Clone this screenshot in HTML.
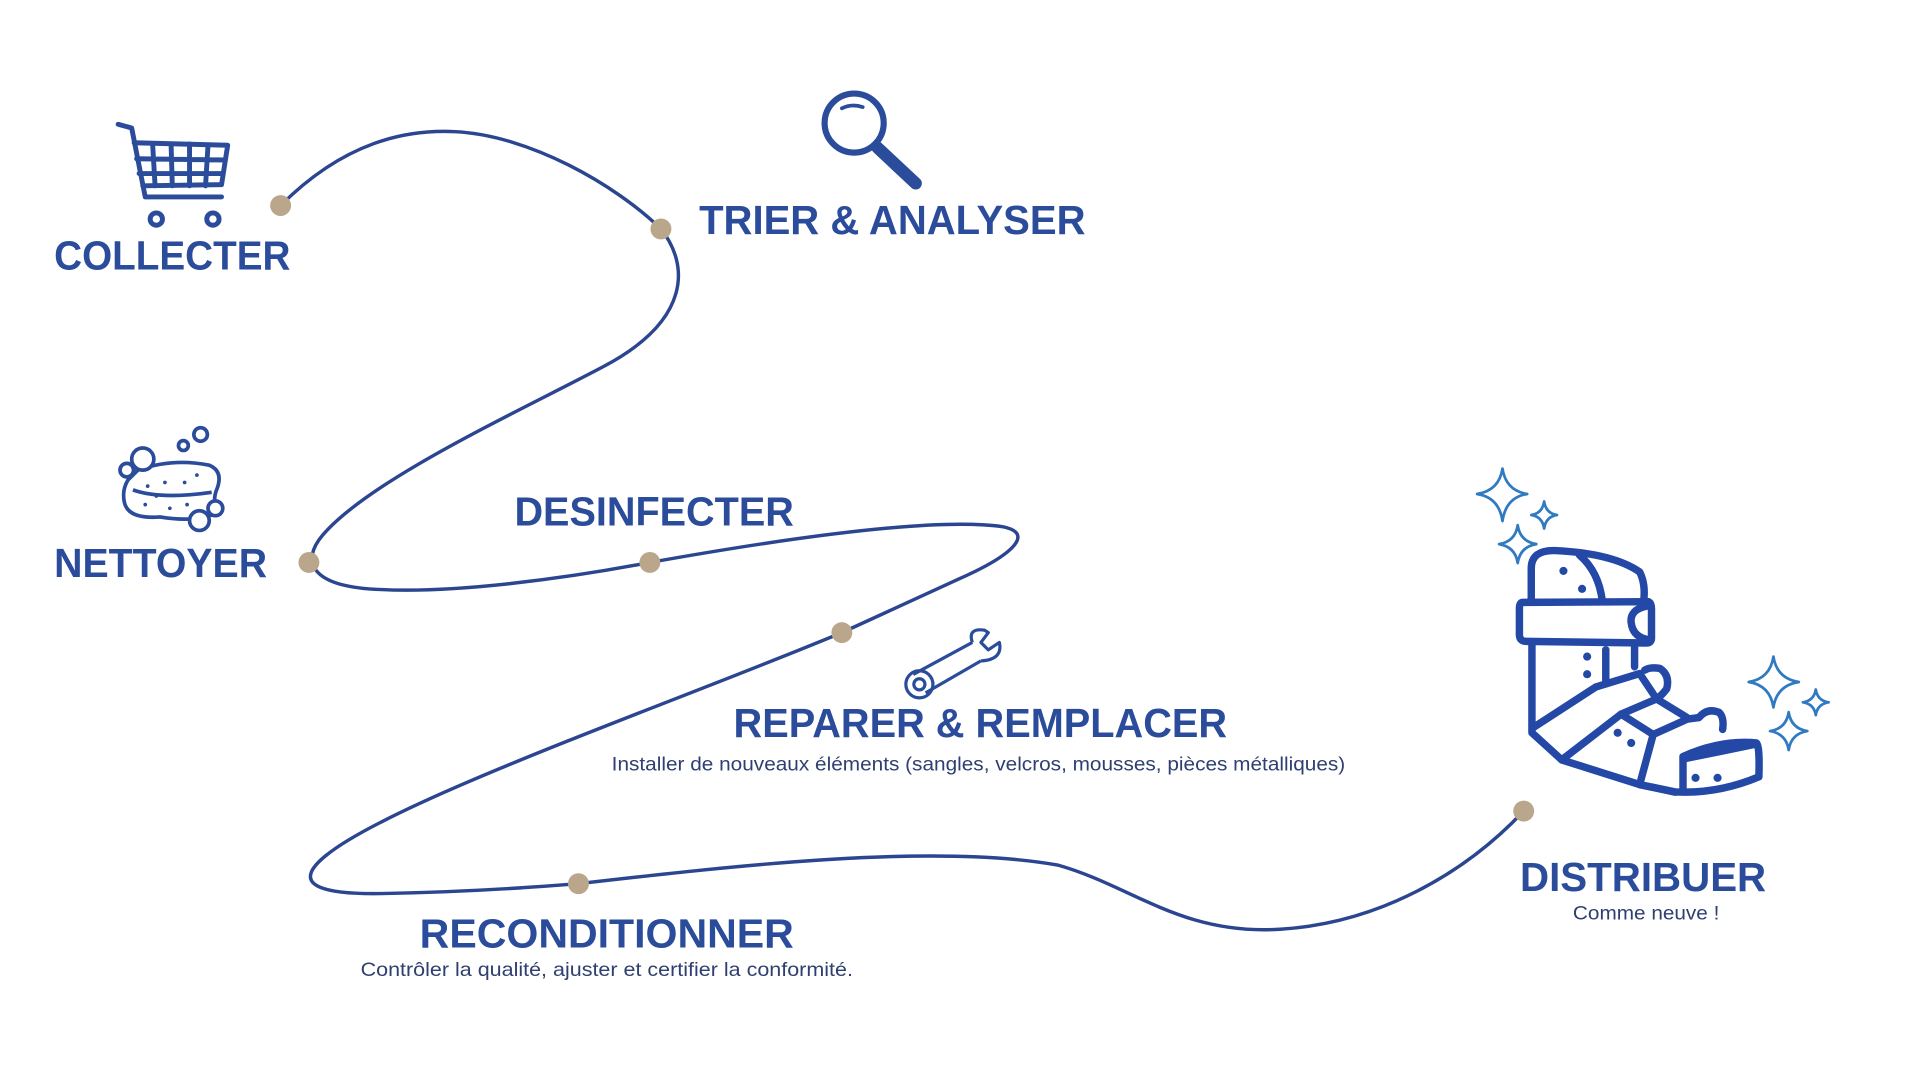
<!DOCTYPE html>
<html><head><meta charset="utf-8"><style>
html,body{margin:0;padding:0;background:#fff;width:1920px;height:1080px;overflow:hidden}
svg{display:block}
.h{font-family:"Liberation Sans",sans-serif;font-weight:bold;font-size:33px;fill:#2b4c9b}
.s{font-family:"Liberation Sans",sans-serif;font-size:15.5px;fill:#2e3f70}
</style></head><body>
<svg width="1920" height="1080" viewBox="0 0 1560 877.5" xmlns="http://www.w3.org/2000/svg">
<rect width="1560" height="877.5" fill="#fff"/>
<path d="M228,167 C280,115 330,105 370,107 C430,110 500,150 537,186 C560,215 562,260 490,298 C420,335 300,390 262,435 C245,455 250,477 310,479 C370,482 460,470 528,457 C640,437 760,420 815,428 C840,433 825,450 780,470 L684,514 C550,570 320,650 265,695 C240,715 250,727 310,726 C370,725 420,722 470,718 C600,703 760,685 860,703 C920,720 960,760 1040,755 C1120,750 1190,710 1238,659" fill="none" stroke="#2b4590" stroke-width="2.8"/>
<g fill="#b9a68b">
<circle cx="228" cy="167" r="8.5"/><circle cx="537" cy="186" r="8.5"/><circle cx="251" cy="457" r="8.5"/><circle cx="528" cy="457" r="8.5"/><circle cx="684" cy="514" r="8.5"/><circle cx="470" cy="718" r="8.5"/><circle cx="1238" cy="659" r="8.5"/>
</g>
<g>
<text class="h" x="44" y="219" textLength="192" lengthAdjust="spacingAndGlyphs">COLLECTER</text>
<text class="h" x="568" y="190" textLength="314" lengthAdjust="spacingAndGlyphs">TRIER &amp; ANALYSER</text>
<text class="h" x="44" y="469" textLength="173" lengthAdjust="spacingAndGlyphs">NETTOYER</text>
<text class="h" x="418" y="427" textLength="227" lengthAdjust="spacingAndGlyphs">DESINFECTER</text>
<text class="h" x="596" y="599" textLength="401" lengthAdjust="spacingAndGlyphs">REPARER &amp; REMPLACER</text>
<text class="s" x="497" y="626" textLength="596" lengthAdjust="spacingAndGlyphs">Installer de nouveaux éléments (sangles, velcros, mousses, pièces métalliques)</text>
<text class="h" x="341" y="770" textLength="304" lengthAdjust="spacingAndGlyphs">RECONDITIONNER</text>
<text class="s" x="293" y="793" textLength="400" lengthAdjust="spacingAndGlyphs">Contrôler la qualité, ajuster et certifier la conformité.</text>
<text class="h" x="1235" y="724" textLength="200" lengthAdjust="spacingAndGlyphs">DISTRIBUER</text>
<text class="s" x="1278" y="747" textLength="119" lengthAdjust="spacingAndGlyphs">Comme neuve !</text>
</g>
<!-- cart -->
<g fill="none" stroke="#2b4c9b" stroke-width="4" stroke-linecap="round" stroke-linejoin="round">
<path d="M96,101 L107,104 L118,160 L180,160"/>
<path d="M109,116 L185,118 L180,150 L116,151"/>
<path d="M111,129 L183,130 M113,141 L181,141 M124,117 L126,151 M139,117 L140,151 M154,117 L154,151 M169,118 L167,151"/>
<circle cx="127" cy="178" r="5"/><circle cx="173" cy="178" r="5"/>
</g>
<!-- magnifier -->
<g fill="none" stroke="#2b4c9b" stroke-linecap="round">
<circle cx="694" cy="100" r="24" stroke-width="5"/>
<path d="M684,88 Q692,84 701,87" stroke-width="3"/>
<path d="M713,120 L744,149" stroke-width="10"/>
</g>
<!-- sponge -->
<g fill="none" stroke="#2b4c9b" stroke-width="3">
<path d="M112,382 Q140,372 170,378 Q182,383 176,398 Q172,408 178,416 Q160,425 130,420 Q104,422 101,408 Q99,398 104,390 Z"/>
<path d="M108,398 Q130,406 172,400"/>
<circle cx="163" cy="353" r="5.5"/><circle cx="149" cy="362" r="4"/>
<circle cx="116" cy="373" r="9" fill="#fff"/><circle cx="103" cy="382" r="5.5" fill="#fff"/>
<circle cx="175" cy="413" r="6" fill="#fff"/><circle cx="162" cy="423" r="8" fill="#fff"/>
</g>
<g fill="#2b4c9b"><circle cx="120" cy="395" r="1.5"/><circle cx="134" cy="392" r="1.5"/><circle cx="150" cy="392" r="1.5"/><circle cx="160" cy="386" r="1.5"/><circle cx="118" cy="410" r="1.5"/><circle cx="138" cy="413" r="1.5"/><circle cx="152" cy="410" r="1.5"/><circle cx="127" cy="403" r="1.5"/></g>
<!-- wrench -->
<g fill="none" stroke="#2b4c9b" stroke-width="2.6" stroke-linejoin="round">
<path d="M742,548 L790,522 M752,563 L797,537"/>
<circle cx="747" cy="556" r="11"/><circle cx="747" cy="556" r="4.5"/>
<path d="M790,522 Q786,510 800,512 L803,514 L797,522 L803,528 L812,522 Q815,536 797,537"/>
</g>
<!-- boot -->
<g transform="translate(1178.1,365.6) scale(0.2752)" fill="none" stroke="#2448a6" stroke-width="22" stroke-linecap="round" stroke-linejoin="round">
<path d="M240,445 L240,350 Q240,295 310,297 Q480,305 560,360 Q578,395 572,445"/>
<path d="M382,310 Q440,360 450,448"/>
<path d="M215,450 L585,448 Q595,450 595,470 L595,555 Q595,570 580,570 L225,565 Q205,565 205,545 L205,468 Q205,450 215,450 Z"/>
<path d="M585,460 Q530,470 535,510 Q540,552 585,560"/>
<path d="M242,570 L242,835 L330,915 L560,988 L665,1010"/>
<path d="M545,570 L545,640 M460,590 L460,680"/>
<path d="M245,820 L430,700 L560,660 L610,735"/>
<path d="M575,650 Q590,640 620,645 Q650,665 640,705 Q625,725 610,735"/>
<path d="M330,915 L505,780 L610,735 L700,790"/>
<path d="M505,780 L600,840 L560,988"/>
<path d="M600,840 L700,795 L735,790"/>
<path d="M735,790 Q760,760 795,775 Q810,790 805,825"/>
<path d="M688,905 Q800,855 905,865 Q915,875 912,965 Q800,1012 688,1010 Z"/>
<path d="M690,912 Q800,890 905,868"/>
<path d="M560,988 L665,1010 L688,1010"/>
</g>
<g transform="translate(1178.1,365.6) scale(0.2752)" fill="#2448a6">
<circle cx="335" cy="357" r="12"/><circle cx="390" cy="410" r="12"/><circle cx="405" cy="610" r="12"/><circle cx="405" cy="662" r="12"/><circle cx="495" cy="835" r="12"/><circle cx="535" cy="865" r="12"/><circle cx="725" cy="968" r="12"/><circle cx="790" cy="968" r="12"/>
</g>
<g transform="translate(1178.1,365.6) scale(0.2752)" fill="none" stroke="#2f7ac0" stroke-width="8" stroke-linejoin="round">
<path d="M155,55 Q165,120 228,130 Q165,140 155,210 Q145,140 80,130 Q145,120 155,55 Z"/>
<path d="M278,152 Q283,187 316,192 Q283,197 278,232 Q273,197 240,192 Q273,187 278,152 Z"/>
<path d="M200,222 Q207,270 255,278 Q207,286 200,334 Q193,286 145,278 Q193,270 200,222 Z"/>
<path d="M955,610 Q965,675 1030,685 Q965,695 955,760 Q945,695 882,685 Q945,675 955,610 Z"/>
<path d="M1080,707 Q1085,740 1118,745 Q1085,750 1080,783 Q1075,750 1042,745 Q1075,740 1080,707 Z"/>
<path d="M1000,774 Q1007,822 1055,830 Q1007,838 1000,886 Q993,838 945,830 Q993,822 1000,774 Z"/>
</g>
</svg>
</body></html>
